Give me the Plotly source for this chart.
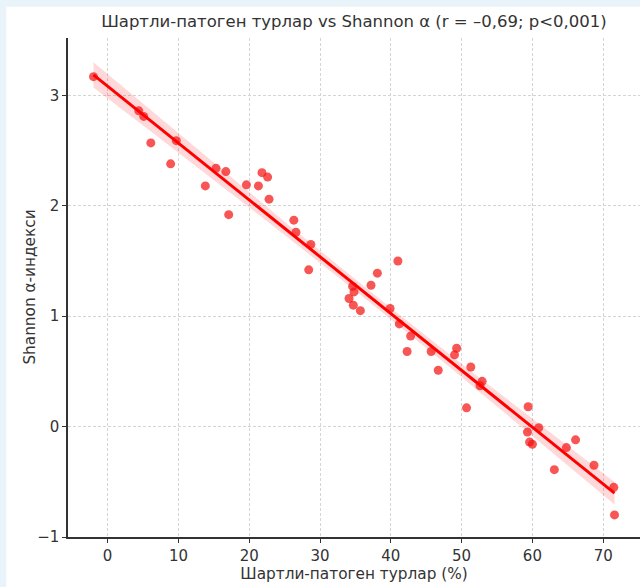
import numpy as np
import plotly.graph_objects as go

# Data
pathogen_pct = [-2.0, 4.4, 5.1, 6.1, 8.9, 9.7, 13.8, 15.3, 16.7, 17.1,
                19.6, 21.3, 21.8, 22.6, 22.8, 26.3, 26.6, 28.7, 28.4, 34.1,
                34.7, 34.8, 34.6, 35.7, 37.2, 38.1, 39.9, 41.0, 41.2, 42.3,
                42.8, 45.7, 46.7, 49.0, 49.3, 51.3, 50.7, 52.9, 52.6, 59.4,
                59.3, 59.6, 60.0, 60.9, 63.1, 64.8, 66.1, 68.7, 71.5, 71.6]
shannon = [3.17, 2.86, 2.81, 2.57, 2.38, 2.59, 2.18, 2.34, 2.31, 1.92,
           2.19, 2.18, 2.30, 2.26, 2.06, 1.87, 1.76, 1.65, 1.42, 1.16,
           1.10, 1.22, 1.27, 1.05, 1.28, 1.39, 1.07, 1.50, 0.93, 0.68,
           0.82, 0.68, 0.51, 0.65, 0.71, 0.54, 0.17, 0.41, 0.37, 0.18,
           -0.05, -0.14, -0.16, -0.01, -0.39, -0.19, -0.12, -0.35, -0.55, -0.80]
x_ticks = [0, 10, 20, 30, 40, 50, 60, 70]
y_ticks = [-1, 0, 1, 2, 3]
y_tick_labels = ["−1", "0", "1", "2", "3"]

title = "Шартли-патоген турлар vs Shannon α (r = –0,69; p<0,001)"
x_title = "Шартли-патоген турлар (%)"
y_title = "Shannon α-индекси"

# Linear regression with 95% confidence band
x = np.array(pathogen_pct)
y = np.array(shannon)
n = len(x)
slope, intercept = np.polyfit(x, y, 1)
xs = np.linspace(x.min(), x.max(), 100)
ys = intercept + slope * xs
resid = y - (intercept + slope * x)
s = np.sqrt(np.sum(resid ** 2) / (n - 2))
sxx = np.sum((x - x.mean()) ** 2)
se = s * np.sqrt(1 / n + (xs - x.mean()) ** 2 / sxx)
t = 2.01
upper = ys + t * se
lower = ys - t * se

FONT = "DejaVu Sans"
TXT = "#333333"

fig = go.Figure()
fig.add_trace(go.Scatter(x=np.concatenate([xs, xs[::-1]]),
                         y=np.concatenate([upper, lower[::-1]]),
                         fill="toself", fillcolor="rgba(255,0,0,0.15)",
                         line=dict(width=0), hoverinfo="skip", showlegend=False))
fig.add_trace(go.Scatter(x=x, y=y, mode="markers",
                         marker=dict(color="rgba(245,20,20,0.72)", size=9, line=dict(width=0)),
                         showlegend=False))
fig.add_trace(go.Scatter(x=xs, y=ys, mode="lines",
                         line=dict(color="#ff0000", width=3), showlegend=False))

# faint light-blue border at top and left (background of the picture)
fig.add_shape(type="rect", xref="paper", yref="paper", x0=-0.2, x1=1.1,
              y0=1.0625, y1=1.1, fillcolor="#e8f4fa", line=dict(width=0), layer="below")
fig.add_shape(type="rect", xref="paper", yref="paper", x0=-0.2, x1=-0.108,
              y0=-0.2, y1=1.1, fillcolor="#e8f4fa", line=dict(width=0), layer="below")

axis_common = dict(showgrid=True, gridcolor="#d4d4d4", griddash="3px,2px", gridwidth=1,
                   zeroline=False, showline=True, linecolor=TXT, linewidth=1.5,
                   ticks="outside", ticklen=4, tickcolor=TXT,
                   tickfont=dict(family=FONT, size=15, color=TXT))

fig.update_layout(
    width=640, height=587,
    margin=dict(l=68, r=0, t=38, b=50),
    paper_bgcolor="white", plot_bgcolor="white",
    title=dict(text=title, x=0.553, xanchor="center", y=0.963, yanchor="middle",
               font=dict(family=FONT, size=16.5, color=TXT)),
    xaxis=dict(range=[-5.6, 75.2], tickvals=x_ticks,
               title=dict(text=x_title, font=dict(family=FONT, size=15.3, color=TXT), standoff=4),
               **axis_common),
    yaxis=dict(range=[-1.0, 3.52], tickvals=y_ticks, ticktext=y_tick_labels,
               **axis_common),
    annotations=[dict(text=y_title, xref="paper", yref="paper", x=-0.068, y=0.5,
                      xanchor="center", yanchor="middle", textangle=-90, showarrow=False,
                      font=dict(family=FONT, size=15.3, color=TXT))],
)

fig.write_html("out.html")
